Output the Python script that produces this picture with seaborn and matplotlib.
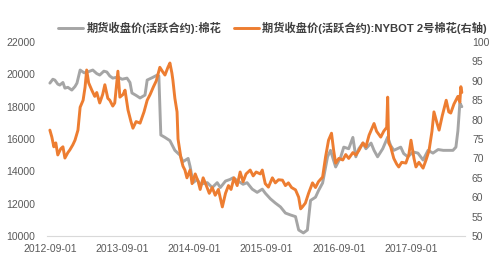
import matplotlib
matplotlib.use("Agg")
import matplotlib.pyplot as plt
import pandas as pd
import seaborn as sns

# ---- data ----
zce_dates = [
    "2012-09-01", "2012-09-16", "2012-09-26", "2012-10-11", "2012-10-21", "2012-11-06", "2012-11-16",
    "2012-12-01", "2012-12-21", "2013-01-06", "2013-01-16", "2013-02-01", "2013-02-21", "2013-03-11",
    "2013-04-06", "2013-04-26", "2013-05-11", "2013-06-01", "2013-06-16", "2013-07-01", "2013-07-16",
    "2013-08-11", "2013-09-01", "2013-09-26", "2013-10-11", "2013-10-21", "2013-11-11", "2013-12-01",
    "2013-12-26", "2014-01-06", "2014-02-01", "2014-02-26", "2014-03-06", "2014-03-16", "2014-04-06",
    "2014-05-01", "2014-05-26", "2014-06-21", "2014-07-06", "2014-08-01", "2014-08-11", "2014-08-26",
    "2014-09-16", "2014-10-01", "2014-11-06", "2014-12-01", "2014-12-26", "2015-01-11", "2015-02-06",
    "2015-03-01", "2015-03-16", "2015-04-11", "2015-05-06", "2015-05-26", "2015-06-21", "2015-07-16",
    "2015-08-11", "2015-08-26", "2015-09-21", "2015-10-16", "2015-11-11", "2015-12-06", "2016-01-01",
    "2016-01-26", "2016-02-11", "2016-03-06", "2016-03-26", "2016-04-11", "2016-05-06", "2016-05-21",
    "2016-06-11", "2016-07-06", "2016-07-21", "2016-08-16", "2016-09-11", "2016-09-26", "2016-10-21",
    "2016-11-11", "2016-11-26", "2016-12-11", "2017-01-01", "2017-01-16", "2017-02-11", "2017-02-26",
    "2017-03-16", "2017-04-11", "2017-05-06", "2017-05-21", "2017-06-06", "2017-07-11", "2017-07-26",
    "2017-08-16", "2017-09-11", "2017-10-06", "2017-11-01", "2017-11-26", "2017-12-21", "2018-01-16",
    "2018-02-11", "2018-03-06", "2018-04-01", "2018-04-16", "2018-04-26", "2018-05-06", "2018-05-16",
]
zce_values = [
    19460, 19700, 19650, 19400, 19340, 19500, 19150,
    19200, 19030, 19250, 19460, 20270, 20100, 20150,
    20270, 20050, 19960, 20200, 20150, 19900, 19770,
    19840, 19700, 19770, 19500, 18850, 18700, 18540,
    18720, 19650, 19800, 19960, 19900, 16250, 16100,
    15900, 15300, 15000, 14600, 14800, 14300, 13300,
    13500, 13200, 13300, 13000, 13300, 13000, 13400,
    13500, 13600, 13400, 13200, 13300, 12900, 12700,
    12900, 12650, 12300, 12040, 11800, 11420, 11300,
    11200, 10370, 10190, 10370, 12200, 12400, 12800,
    13280, 14900, 15300, 14270, 14900, 15500, 15400,
    16100, 14900, 15400, 15750, 15400, 15750, 15300,
    14900, 15400, 16120, 15600, 15300, 15500, 15100,
    14900, 15200, 15130, 14700, 15300, 15130, 15350,
    15300, 15300, 15300, 15500, 16500, 18230, 18000,
]

ice_dates = [
    "2012-09-01", "2012-09-11", "2012-09-21", "2012-10-01", "2012-10-11", "2012-10-26", "2012-11-06",
    "2012-11-16", "2012-12-01", "2012-12-11", "2012-12-26", "2013-01-06", "2013-01-21", "2013-02-01",
    "2013-02-16", "2013-02-26", "2013-03-06", "2013-03-16", "2013-04-01", "2013-04-16", "2013-04-26",
    "2013-05-11", "2013-05-26", "2013-06-06", "2013-06-21", "2013-07-01", "2013-07-16", "2013-07-26",
    "2013-08-11", "2013-08-21", "2013-09-06", "2013-09-16", "2013-10-01", "2013-10-16", "2013-10-26",
    "2013-11-11", "2013-12-01", "2013-12-21", "2014-01-06", "2014-01-21", "2014-02-06", "2014-02-21",
    "2014-03-11", "2014-03-26", "2014-04-06", "2014-04-21", "2014-05-01", "2014-05-11", "2014-05-16",
    "2014-05-26", "2014-06-06", "2014-06-11", "2014-06-26", "2014-07-06", "2014-07-16", "2014-07-26",
    "2014-08-11", "2014-08-21", "2014-09-06", "2014-09-21", "2014-10-01", "2014-10-16", "2014-11-01",
    "2014-11-16", "2014-12-01", "2014-12-16", "2015-01-01", "2015-01-21", "2015-02-06", "2015-02-21",
    "2015-03-06", "2015-03-21", "2015-04-06", "2015-04-21", "2015-05-06", "2015-05-21", "2015-06-11",
    "2015-06-26", "2015-07-11", "2015-08-01", "2015-08-11", "2015-08-26", "2015-09-11", "2015-10-01",
    "2015-10-16", "2015-11-01", "2015-11-21", "2015-12-06", "2015-12-21", "2016-01-06", "2016-01-26",
    "2016-02-11", "2016-02-21", "2016-03-01", "2016-03-16", "2016-04-01", "2016-04-21", "2016-05-06",
    "2016-05-21", "2016-06-11", "2016-06-26", "2016-07-11", "2016-07-26", "2016-08-06", "2016-08-16",
    "2016-09-01", "2016-09-21", "2016-10-06", "2016-10-21", "2016-11-11", "2016-11-26", "2016-12-11",
    "2017-01-01", "2017-01-16", "2017-02-01", "2017-02-26", "2017-03-11", "2017-04-01", "2017-04-16",
    "2017-05-01", "2017-05-06", "2017-05-11", "2017-05-21", "2017-06-06", "2017-06-21", "2017-07-01",
    "2017-07-16", "2017-08-06", "2017-08-21", "2017-09-01", "2017-09-16", "2017-09-26", "2017-10-11",
    "2017-11-01", "2017-11-16", "2017-12-01", "2017-12-16", "2017-12-26", "2018-01-11", "2018-01-21",
    "2018-02-06", "2018-02-26", "2018-03-11", "2018-03-21", "2018-04-06", "2018-04-26", "2018-05-06",
    "2018-05-11", "2018-05-16",
]
ice_values = [
    77.3, 75.5, 73.0, 74.0, 70.9, 72.5, 73.0,
    70.1, 71.5, 72.2, 73.5, 74.7, 77.3, 83.2,
    85.0, 88.4, 92.8, 89.5, 87.6, 86.0, 87.0,
    84.3, 86.5, 89.0, 85.5, 85.0, 83.5, 84.3,
    92.5, 85.8, 86.5, 87.6, 82.5, 79.5, 77.8,
    79.5, 79.1, 82.0, 85.0, 86.5, 88.4, 90.0,
    93.5, 92.3, 91.5, 93.5, 94.6, 92.0, 90.2,
    85.5, 82.0, 75.0, 70.0, 68.0, 67.0, 65.0,
    67.0, 63.5, 66.0, 64.0, 62.0, 65.0, 63.0,
    61.0, 62.5, 60.5, 62.0, 57.5, 61.0, 63.0,
    62.0, 65.0, 63.0, 66.5, 64.0, 66.0, 67.0,
    65.5, 66.5, 66.0, 67.0, 63.5, 62.6, 65.0,
    63.7, 64.5, 64.4, 63.0, 63.7, 62.5, 61.9,
    60.0, 57.0, 57.5, 58.5, 61.0, 63.7, 62.5,
    64.0, 65.2, 70.4, 74.7, 76.5, 72.0, 68.8,
    70.0, 69.6, 71.0, 70.0, 71.5, 70.9, 72.0,
    74.0, 73.0, 76.0, 79.0, 77.0, 75.5, 77.0,
    78.0, 85.8, 74.0, 73.0, 70.0, 68.5, 67.8,
    69.0, 68.8, 71.0, 74.7, 70.0, 67.8, 69.0,
    67.5, 69.6, 72.0, 77.0, 82.0, 79.0, 77.3,
    81.0, 85.0, 82.0, 81.7, 84.0, 86.0, 84.5,
    88.5, 87.0,
]

label_zce = "期货收盘价(活跃合约):棉花"
label_ice = "期货收盘价(活跃合约):NYBOT 2号棉花(右轴)"
x_ticks = ["2012-09-01", "2013-09-01", "2014-09-01", "2015-09-01", "2016-09-01", "2017-09-01"]
left_ticks = [10000, 12000, 14000, 16000, 18000, 20000, 22000]
right_ticks = [50, 55, 60, 65, 70, 75, 80, 85, 90, 95, 100]

GRAY = "#A5A5A5"
ORANGE = "#ED7D31"
TXT = "#595959"

sns.set_style("white")
plt.rcParams["font.family"] = ["Liberation Sans", "Noto Sans CJK SC", "DejaVu Sans"]

zce = pd.DataFrame({"date": pd.to_datetime(zce_dates), "value": zce_values})
ice = pd.DataFrame({"date": pd.to_datetime(ice_dates), "value": ice_values})

fig = plt.figure(figsize=(5.0, 2.66), dpi=100)
ax = fig.add_axes([0.095, 0.1128, 0.835, 0.729])
ax2 = ax.twinx()

sns.lineplot(data=zce, x="date", y="value", ax=ax, color=GRAY, linewidth=2.1, label=label_zce, legend=False)
sns.lineplot(data=ice, x="date", y="value", ax=ax2, color=ORANGE, linewidth=2.1, label=label_ice, legend=False)

ax.set_xlim(pd.Timestamp("2012-08-20"), pd.Timestamp("2018-06-01"))
ax.set_ylim(10000, 22000)
ax2.set_ylim(50, 100)
ax.set_yticks(left_ticks)
ax2.set_yticks(right_ticks)
ax.set_xticks(pd.to_datetime(x_ticks))
ax.set_xticklabels(x_ticks)

for a in (ax, ax2):
    a.set_xlabel("")
    a.set_ylabel("")
    for s in a.spines.values():
        s.set_visible(False)
    a.grid(False)
ax.spines["bottom"].set_visible(True)
ax.spines["bottom"].set_color("#D9D9D9")
ax.spines["bottom"].set_linewidth(0.8)

ax.tick_params(axis="x", length=0, pad=6, labelsize=7.5, labelcolor=TXT)
ax.tick_params(axis="y", length=0, pad=9, labelsize=7.5, labelcolor=TXT)
ax2.tick_params(axis="y", length=0, pad=5, labelsize=7.5, labelcolor=TXT)

h1, l1 = ax.get_legend_handles_labels()
h2, l2 = ax2.get_legend_handles_labels()
leg = fig.legend(h1 + h2, l1 + l2, loc="center", bbox_to_anchor=(0.545, 0.895), ncol=2,
                 frameon=False, handlelength=2.2, columnspacing=1.1, handletextpad=0.3,
                 prop={"family": ["Liberation Sans", "Noto Sans CJK SC", "DejaVu Sans"],
                       "size": 8.1, "weight": "bold"})
for t in leg.get_texts():
    t.set_color("#404040")

fig.savefig("out.png", dpi=100)
